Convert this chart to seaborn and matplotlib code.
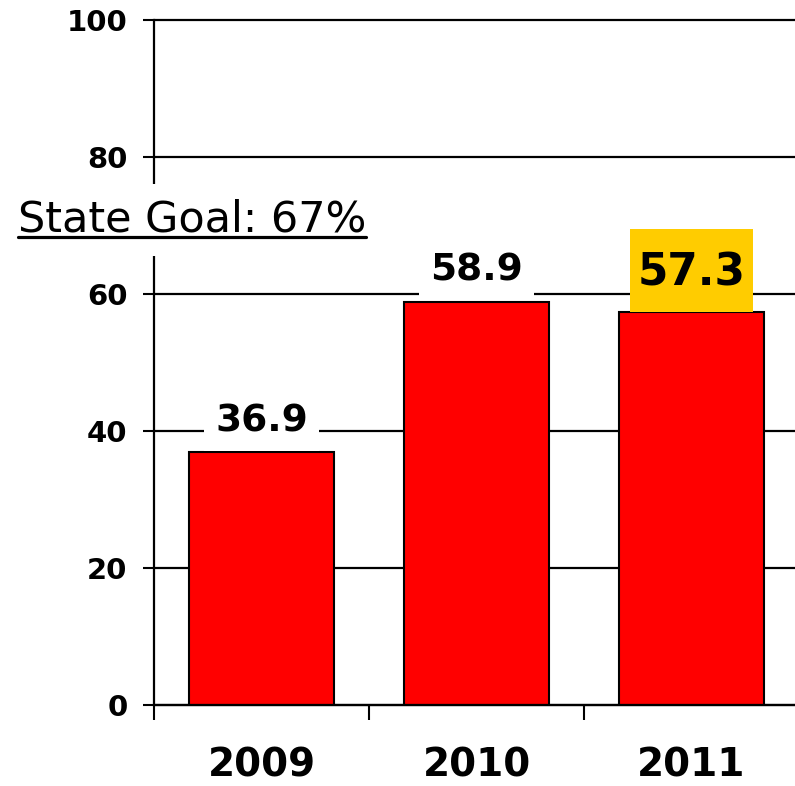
import numpy as np
import pandas as pd
import seaborn as sns
import matplotlib.pyplot as plt
from matplotlib.patches import Rectangle
from matplotlib.lines import Line2D

# data
years = ['2009', '2010', '2011']
rates = [36.9, 58.9, 57.3]
highlight = [False, False, True]
y_ticks = [0, 20, 40, 60, 80, 100]
goal_text = 'State Goal: 67%'

df = pd.DataFrame({'year': years, 'rate': rates})

sns.set_style('white')
plt.rcParams['font.family'] = ['DejaVu Sans']

fig = plt.figure(figsize=(7.95, 7.86), dpi=100)
ax = fig.add_axes([154 / 795, 81 / 786, 645 / 795, 685 / 786])

sns.barplot(data=df, x='year', y='rate', order=years, ax=ax,
            color='#FF0000', saturation=1, width=0.67,
            edgecolor='black', linewidth=1.5, zorder=2)

# axes / grid
ax.set_ylim(0, 100)
ax.set_xlim(-0.5, 2.5)
ax.set_yticks(y_ticks)
ax.set_yticklabels([str(t) for t in y_ticks], fontsize=21, fontweight='bold',
                   color='black')
ax.set_axisbelow(True)
ax.yaxis.grid(True, color='black', linewidth=1.6)
for gl in ax.get_ygridlines():
    gl.set_clip_on(False)
ax.xaxis.grid(False)
for side in ['top', 'right']:
    ax.spines[side].set_visible(False)
for side in ['left', 'bottom']:
    ax.spines[side].set_color('black')
    ax.spines[side].set_linewidth(1.6)
ax.set_xlabel('')
ax.set_ylabel('')
ax.tick_params(axis='y', which='major', direction='out', length=8, width=1.5,
               color='black', pad=11, left=True, labelcolor='black')
ax.set_xticks([-0.5, 0.5, 1.5, 2.5], minor=True)
ax.tick_params(axis='x', which='minor', direction='out', length=11, width=1.5,
               color='black', bottom=True)
ax.tick_params(axis='x', which='major', length=0, pad=30, labelcolor='black')
for lab in ax.get_xticklabels():
    lab.set_fontsize(28)
    lab.set_fontweight('bold')

# value labels
for i, (v, hl) in enumerate(zip(rates, highlight)):
    if hl:
        ax.add_patch(Rectangle((i - 0.285, v), 0.57, 12.2, facecolor='#FFCC00',
                               edgecolor='none', zorder=4))
        ax.text(i, v + 4.0, f'{v:.1f}', ha='center', va='baseline',
                fontsize=31.5, fontweight='bold', color='black', zorder=5)
    else:
        ax.text(i, v + 3.0, f'{v:.1f}', ha='center', va='baseline',
                fontsize=27, fontweight='bold', color='black', zorder=5,
                bbox=dict(boxstyle='square,pad=0.3', facecolor='white',
                          edgecolor='none'))

# state goal note, underlined, masking the axis line
goal = fig.text(18 / 795, 1 - 232 / 786, goal_text, ha='left', va='baseline',
                fontsize=31, color='black', zorder=10,
                bbox=dict(boxstyle='square,pad=0.35', facecolor='white',
                          edgecolor='none'))
fig.canvas.draw()
bb = goal.get_window_extent(renderer=fig.canvas.get_renderer())
uy = 1 - 237 / 786
fig.add_artist(Line2D([bb.x0 / fig.bbox.width, bb.x1 / fig.bbox.width], [uy, uy],
                      transform=fig.transFigure, color='black', linewidth=2.3,
                      zorder=11))

fig.savefig('out.png', dpi=100)
